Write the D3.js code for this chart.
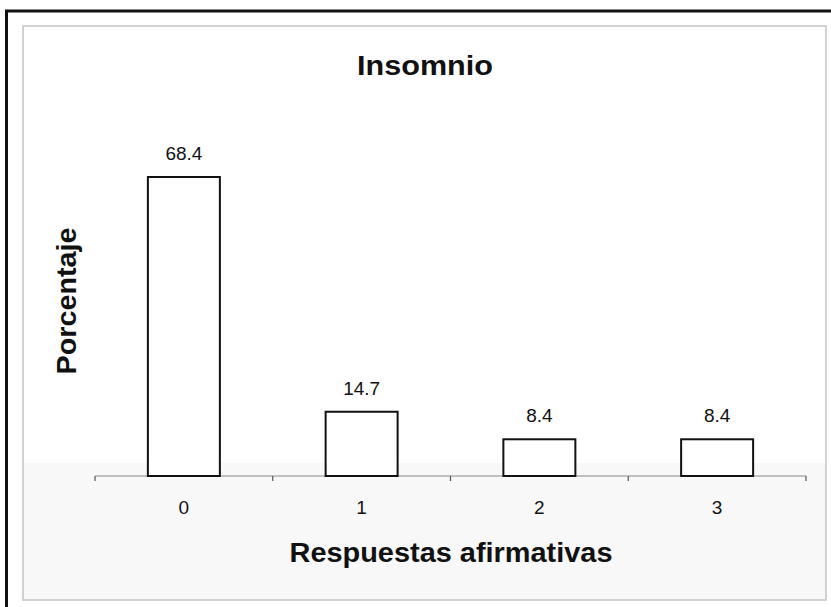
<!DOCTYPE html>
<html>
<head>
<meta charset="utf-8">
<script src="https://cdn.jsdelivr.net/npm/d3@7"></script>
<style>
  html, body { margin: 0; padding: 0; background: #ffffff; }
  svg { display: block; }
  text { font-family: "Liberation Sans", Arial, Helvetica, sans-serif; fill: #111; }
</style>
</head>
<body>
<svg id="chart" width="831" height="607"></svg>
<script>
// Data
const categories = ["0", "1", "2", "3"];
const values = [68.4, 14.7, 8.4, 8.4];
const valueLabels = ["68.4", "14.7", "8.4", "8.4"];
const title = "Insomnio";
const xTitle = "Respuestas afirmativas";
const yTitle = "Porcentaje";

const svg = d3.select("#chart");
const W = 831, H = 607;

// Frame: heavy black top/left edge and a faint inner border
svg.append("rect").attr("x", 0).attr("y", 0).attr("width", W).attr("height", H).attr("fill", "#ffffff");
svg.append("rect")
  .attr("x", 23).attr("y", 463).attr("width", 803).attr("height", 137)
  .attr("fill", "#f8f8f8");
svg.append("rect")
  .attr("x", 23).attr("y", 26).attr("width", 803).attr("height", 574)
  .attr("fill", "none").attr("stroke", "#c4c4c4").attr("stroke-width", 1.5);
svg.append("line").attr("x1", 5).attr("x2", W).attr("y1", 11).attr("y2", 11)
  .attr("stroke", "#111").attr("stroke-width", 3);
svg.append("line").attr("x1", 6.5).attr("x2", 6.5).attr("y1", 10).attr("y2", H)
  .attr("stroke", "#111").attr("stroke-width", 3);

// Scales
const x = d3.scaleBand()
  .domain(categories)
  .range([95, 806])
  .paddingInner(0.595)
  .paddingOuter(0.2975);

const y = d3.scaleLinear()
  .domain([0, 80])
  .range([476, 126.3]);

// Category axis: gray baseline with tick marks at band boundaries
const axisG = svg.append("g").attr("transform", `translate(0,${y(0)})`);
axisG.append("line")
  .attr("x1", x.range()[0]).attr("x2", x.range()[1])
  .attr("y1", 0).attr("y2", 0)
  .attr("stroke", "#8a8a8a").attr("stroke-width", 1.2);
const boundaries = categories.map(c => x(c) - x.step() * x.paddingInner() / 2);
boundaries.push(x.range()[1]);
axisG.selectAll("line.tick")
  .data(boundaries)
  .join("line")
  .attr("class", "tick")
  .attr("x1", d => d).attr("x2", d => d)
  .attr("y1", 0).attr("y2", 5)
  .attr("stroke", "#555").attr("stroke-width", 1.2);

axisG.selectAll("text.ticklabel")
  .data(categories)
  .join("text")
  .attr("class", "ticklabel")
  .attr("x", d => x(d) + x.bandwidth() / 2)
  .attr("y", 38)
  .attr("text-anchor", "middle")
  .style("font-size", "19px")
  .text(d => d);

// Bars
const data = categories.map((c, i) => ({ c, v: values[i], label: valueLabels[i] }));
svg.selectAll("rect.bar")
  .data(data)
  .join("rect")
  .attr("class", "bar")
  .attr("x", d => x(d.c))
  .attr("y", d => y(d.v))
  .attr("width", x.bandwidth())
  .attr("height", d => y(0) - y(d.v))
  .attr("fill", "#ffffff")
  .attr("stroke", "#111")
  .attr("stroke-width", 2);

// Value labels
svg.selectAll("text.value")
  .data(data)
  .join("text")
  .attr("class", "value")
  .attr("x", d => x(d.c) + x.bandwidth() / 2)
  .attr("y", d => y(d.v) - 17)
  .attr("text-anchor", "middle")
  .style("font-size", "19px")
  .text(d => d.label);

// Titles
svg.append("text")
  .attr("x", 425).attr("y", 75)
  .attr("text-anchor", "middle")
  .style("font-size", "28px").style("font-weight", "bold")
  .attr("textLength", 136).attr("lengthAdjust", "spacingAndGlyphs")
  .text(title);

svg.append("text")
  .attr("x", 451).attr("y", 562)
  .attr("text-anchor", "middle")
  .style("font-size", "27px").style("font-weight", "bold")
  .attr("textLength", 323).attr("lengthAdjust", "spacingAndGlyphs")
  .text(xTitle);

svg.append("text")
  .attr("transform", "translate(76,301) rotate(-90)")
  .attr("text-anchor", "middle")
  .style("font-size", "27px").style("font-weight", "bold")
  .attr("textLength", 147).attr("lengthAdjust", "spacingAndGlyphs")
  .text(yTitle);
</script>
</body>
</html>
